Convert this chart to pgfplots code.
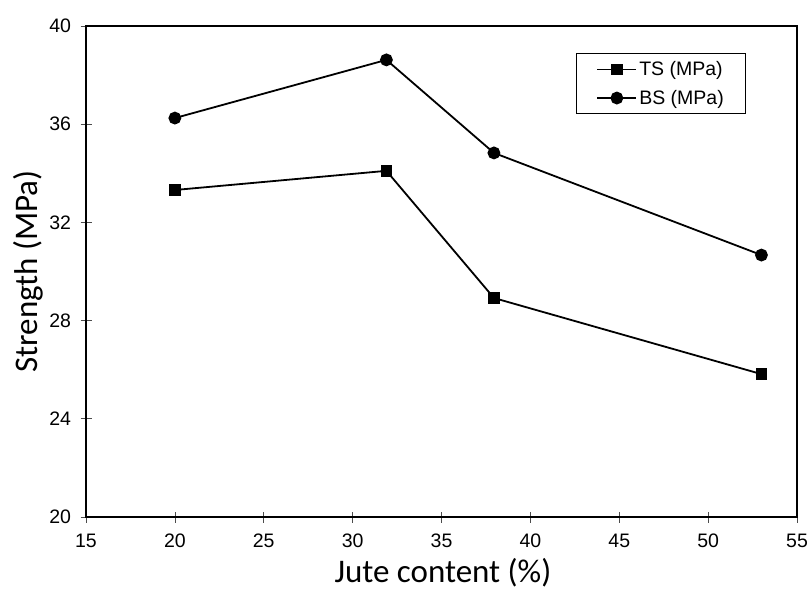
\documentclass[border=0pt]{standalone}
\usepackage{fontspec}
\setmainfont{Liberation Sans}
\newfontfamily\calibri{Carlito}
\usepackage{pgfplots}
\pgfplotsset{compat=1.18}
\begin{document}
\begin{tikzpicture}
\useasboundingbox (0,0) rectangle (808pt,590pt);
\begin{axis}[
  at={(86pt,73pt)}, anchor=south west,
  width=711pt, height=491pt, scale only axis,
  xmin=15, xmax=55, ymin=20, ymax=40,
  xtick={15,20,...,55}, ytick={20,24,...,40},
  xtick pos=left, ytick pos=left,
  tick align=center, major tick length=11pt,
  tick style={line width=0.7pt, black!70},
  axis line style={line width=1.6pt},
  /pgf/number format/assume math mode=true,
  ticklabel style={font=\fontsize{19.5}{22}\selectfont},
  xticklabel style={yshift=-8pt},
  yticklabel style={xshift=-6pt},
  xlabel={Jute content (\%)}, ylabel={Strength (MPa)},
  label style={font=\calibri\fontsize{33}{38}\selectfont},
  xlabel style={at={(axis description cs:0.502,-0.1324)}, anchor=base, inner sep=0pt},
  ylabel style={at={(axis description cs:-0.081,0.5)}, anchor=center},
  legend style={at={(0.689,0.945)}, anchor=north west, draw=black, line width=1.2pt,
    font=\fontsize{19.5}{22}\selectfont, inner xsep=20pt, inner ysep=6pt, row sep=9pt},
  legend cell align=left,
  legend image code/.code={\draw[#1] (0pt,0pt) -- (39pt,0pt); \draw[#1, mark repeat=2, mark phase=2] plot coordinates {(0pt,0pt) (19.5pt,0pt) (39pt,0pt)};},
]
\addplot[black, line width=1.8pt, mark=square*, mark size=5pt, mark options={solid}] coordinates {
 (20,33.32) (31.9,34.1) (37.95,28.92) (53,25.82)};
\addlegendentry{TS (MPa)}
\addplot[black, line width=1.8pt, mark=*, mark size=5.5pt, mark options={solid}] coordinates {
 (20,36.25) (31.9,38.62) (37.95,34.83) (53,30.67)};
\addlegendentry{BS (MPa)}
\end{axis}
\end{tikzpicture}
\end{document}
